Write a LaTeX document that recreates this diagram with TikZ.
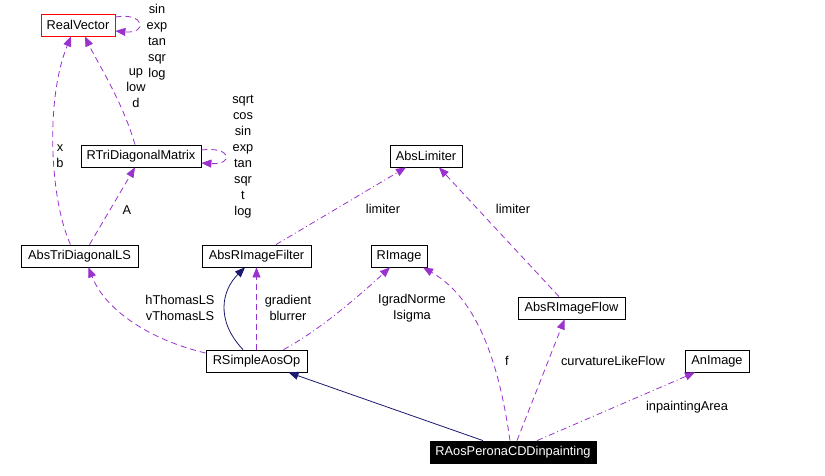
\documentclass[tikz,border=0pt]{standalone}
\usepackage{fontspec}
\setmainfont{Liberation Sans}
\usetikzlibrary{arrows.meta,positioning}
\definecolor{edgepurple}{RGB}{154,50,205}
\definecolor{edgenavy}{RGB}{25,25,112}

\begin{document}
\begin{tikzpicture}[x=1pt, y=-1pt, >={Triangle[length=10pt,width=8pt]},
    font=\fontsize{12.8}{16}\selectfont,
    cls/.style={draw=black, line width=0.8pt, inner sep=0pt, minimum height=22pt, fill=white},
    uses/.style={->, edgepurple, line width=0.8pt, dash pattern=on 6pt off 4pt},
    usesdot/.style={->, edgepurple, line width=0.8pt, dash pattern=on 6pt off 3pt on 1pt off 3pt},
    inherit/.style={->, edgenavy, line width=0.8pt},
    lbl/.style={align=center, inner sep=0pt}]

  \fill[white] (0,0) rectangle (825,476);
  \useasboundingbox (0,0) rectangle (825,476);

  % classes
  \node[cls, draw=red, minimum width=74pt] (realvec) at (78,25) {RealVector};
  \node[cls, minimum width=120pt] (rtridiag) at (141,156) {RTriDiagonalMatrix};
  \node[cls, minimum width=72pt] (abslim) at (426,156) {AbsLimiter};
  \node[cls, minimum width=117pt] (abstri) at (79.5,256) {AbsTriDiagonalLS};
  \node[cls, minimum width=109pt] (absfilter) at (256.5,256) {AbsRImageFilter};
  \node[cls, minimum width=56pt] (rimage) at (399,256) {RImage};
  \node[cls, minimum width=107pt] (absflow) at (571.5,308) {AbsRImageFlow};
  \node[cls, minimum width=64pt] (animage) at (717,361) {AnImage};
  \node[cls, minimum width=101pt] (rsimple) at (256.5,361) {RSimpleAosOp};
  \node[cls, fill=black, text=white, minimum width=166pt] (raos) at (513,452) {RAosPeronaCDDinpainting};

  % inheritance
  \draw[inherit] ([xshift=-30pt]raos.north) -- ([xshift=32pt]rsimple.south);
  \draw[inherit] ([xshift=-13.5pt]rsimple.north) .. controls (215,320) and (222,290) .. ([xshift=-11.5pt]absfilter.south);

  % usage
  \draw[uses] ([yshift=8pt]realvec.east) .. controls (145,12) and (148,34) .. ([yshift=-6pt]realvec.east);
  \draw[uses] ([yshift=6pt]rtridiag.east) .. controls (232,146) and (234,165) .. ([yshift=-7pt]rtridiag.east);
  \draw[uses] ([xshift=-6pt]rtridiag.north) .. controls (122,100) and (97,62) .. ([xshift=7pt]realvec.south);
  \draw[uses] ([xshift=-9pt]abstri.north) .. controls (50,200) and (45,100) .. ([xshift=-7pt]realvec.south);
  \draw[uses] ([xshift=10pt]abstri.north) -- ([xshift=-6pt]rtridiag.south);
  \draw[usesdot] ([xshift=19.5pt]absfilter.north) -- ([xshift=-20pt]abslim.south);
  \draw[uses] ([xshift=-12.5pt]absflow.north) -- ([xshift=13pt]abslim.south);
  \draw[uses] ([yshift=8pt]rsimple.west) .. controls (150,340) and (105,310) .. ([xshift=9pt]abstri.south);
  \draw[uses] (rsimple.north) -- (absfilter.south);
  \draw[usesdot] ([xshift=27pt]rsimple.north) .. controls (320,330) and (360,295) .. ([xshift=-9pt]rimage.south);
  \draw[uses] ([xshift=-3pt]raos.north) .. controls (500,370) and (480,300) .. ([xshift=24pt]rimage.south);
  \draw[uses] ([xshift=4pt]raos.north) -- ([xshift=-7pt]absflow.south);
  \draw[usesdot] ([xshift=24pt]raos.north) -- ([xshift=-22pt]animage.south);

  % member names
  \node[lbl] (rvself) at (157,42) {sin\\exp\\tan\\sqr\\log};
  \node[lbl] (rtrv) at (136,88) {up\\low\\d};
  \node[lbl] (atrv) at (60,156) {x\\b};
  \node[lbl] (atrt) at (127,210) {A};
  \node[lbl] (rtself) at (243,157) {sqrt\\cos\\sin\\exp\\tan\\sqr\\t\\log};
  \node[lbl] (aflim) at (383,209) {limiter};
  \node[lbl] (aflowlim) at (513,209) {limiter};
  \node[lbl] (rsat) at (180,308) {hThomasLS\\vThomasLS};
  \node[lbl] (rsaf) at (288,308) {gradient\\blurrer};
  \node[lbl] (rsri) at (412,308) {IgradNorme\\Isigma};
  \node[lbl] (raori) at (507,361) {f};
  \node[lbl] (raoaf) at (613,361) {curvatureLikeFlow};
  \node[lbl] (raoan) at (687,407) {inpaintingArea};
\end{tikzpicture}
\end{document}
